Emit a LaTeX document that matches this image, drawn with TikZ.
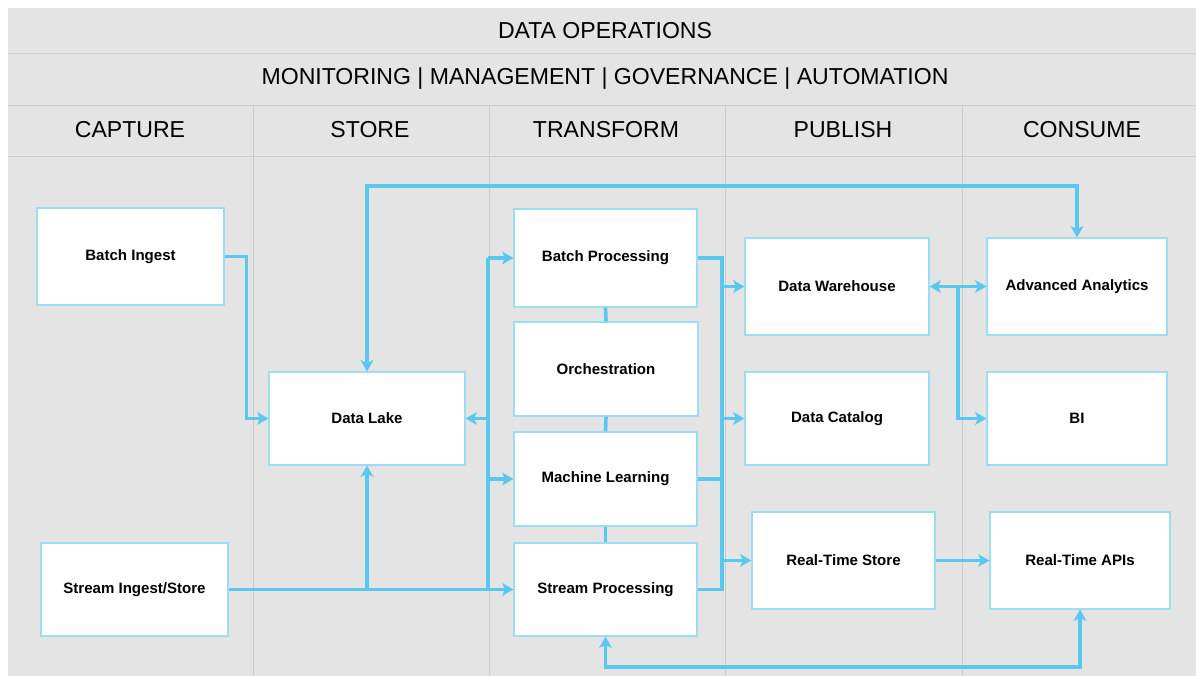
\documentclass[tikz,border=0pt]{standalone}
\usepackage{fontspec}
\setmainfont{Liberation Sans}
\usetikzlibrary{arrows.meta}

\definecolor{lanegray}{RGB}{228,228,228}
\definecolor{rulegray}{RGB}{204,204,204}
\definecolor{flowblue}{RGB}{90,200,238}
\definecolor{boxblue}{RGB}{158,220,242}

\begin{document}
\begin{tikzpicture}[x=0.025cm, y=-0.025cm,
    every node/.style={align=center},
    hdr/.style={font=\fontsize{16.4}{19}\selectfont},
    box/.style={rectangle, draw=boxblue, fill=white, line width=0.8pt, minimum width=4.6cm, minimum height=2.375cm, inner sep=0pt, font=\bfseries\fontsize{10.7}{13}\selectfont},
    rule/.style={rulegray, line width=0.6pt},
    link/.style={flowblue, line width=2.6pt},
    arr/.style={link, -{Stealth[length=8pt,width=9pt,inset=2pt]}},
    arrs/.style={link, {Stealth[length=8pt,width=9pt,inset=2pt]}-{Stealth[length=8pt,width=9pt,inset=2pt]}}
]
\useasboundingbox (0,0) rectangle (1196,676);
\fill[lanegray] (8,8) rectangle (1196,676);

% Header rows and lanes
\draw[rule] (8,53) -- (1196,53);
\draw[rule] (8,105) -- (1196,105);
\draw[rule] (8,156) -- (1196,156);
\foreach \x in {253,489,725,962}
  \draw[rule] (\x,105) -- (\x,676);

\node[hdr] (ops) at (605,31) {DATA OPERATIONS};
\node[hdr] (mgmt) at (605,79) {MONITORING | MANAGEMENT | GOVERNANCE | AUTOMATION};
\node[hdr] (hcap) at (130,130) {CAPTURE};
\node[hdr] (hsto) at (370,130) {STORE};
\node[hdr] (htra) at (606,130) {TRANSFORM};
\node[hdr] (hpub) at (843,130) {PUBLISH};
\node[hdr] (hcon) at (1082,130) {CONSUME};

% Capture
\node[box, minimum width=4.675cm, minimum height=2.425cm] (bingest) at (130.5,256.5) {Batch Ingest};
\node[box, minimum width=4.675cm, minimum height=2.325cm] (singest) at (134.5,589.5) {Stream Ingest/Store};

% Store
\node[box, minimum width=4.9cm, minimum height=2.325cm] (lake) at (367,418.5) {Data Lake};

% Transform
\node[box, minimum width=4.575cm, minimum height=2.45cm] (bproc) at (605.5,258) {Batch Processing};
\node[box, minimum height=2.35cm] (orch) at (606,369) {Orchestration};
\node[box, minimum width=4.575cm, minimum height=2.35cm] (ml) at (605.5,479) {Machine Learning};
\node[box, minimum width=4.575cm, minimum height=2.325cm] (sproc) at (605.5,589.5) {Stream Processing};

% Publish
\node[box, minimum height=2.425cm] (dwh) at (837,286.5) {Data Warehouse};
\node[box, minimum height=2.325cm] (dcat) at (837,418.5) {Data Catalog};
\node[box, minimum width=4.575cm, minimum height=2.425cm] (rtstore) at (843.5,560.5) {Real-Time Store};

% Consume
\node[box, minimum width=4.5cm, minimum height=2.425cm] (aa) at (1077,286.5) {Advanced Analytics};
\node[box, minimum width=4.5cm, minimum height=2.325cm] (bi) at (1077,418.5) {BI};
\node[box, minimum width=4.5cm, minimum height=2.425cm] (rtapi) at (1080,560.5) {Real-Time APIs};

% Routing points
\coordinate (topway) at (0,186);
\coordinate (botway) at (0,667);
\coordinate (storebus) at (488,0);
\coordinate (pubbus) at (722,0);
\coordinate (conbus) at (958,0);

% Capture -> store
\draw[arr] (bingest.east) -- ++(22,0) |- (lake.west);
\draw[arr] (singest.east) -- (sproc.west);
\draw[arr] (singest.east -| lake.south) -- (lake.south);

% Store <-> transform
\draw[link] (storebus |- sproc.west) -- (storebus |- bproc.west);
\draw[arr] (storebus |- bproc.west) -- (bproc.west);
\draw[arr] (storebus |- lake.east) -- (lake.east);
\draw[arr] (storebus |- ml.west) -- (ml.west);

% Transform stack
\draw[link] (bproc.south) -- (orch.north);
\draw[link] (orch.south) -- (ml.north);
\draw[link] (ml.south) -- (sproc.north);

% Transform -> publish
\draw[link] (bproc.east) -- (pubbus |- bproc.east) -- (pubbus |- sproc.east) -- (sproc.east);
\draw[link] (ml.east) -- (pubbus |- ml.east);
\draw[arr] (pubbus |- dwh.west) -- (dwh.west);
\draw[arr] (pubbus |- dcat.west) -- (dcat.west);
\draw[arr] (pubbus |- rtstore.west) -- (rtstore.west);

% Publish -> consume
\draw[arrs] (dwh.east) -- (aa.west);
\draw[arr] (conbus |- dwh.east) -- (conbus |- bi.west) -- (bi.west);
\draw[arr] (rtstore.east) -- (rtapi.west);

% Loops
\draw[arrs] (lake.north) -- (lake.north |- topway) -| (aa.north);
\draw[arrs] (sproc.south) -- (sproc.south |- botway) -| (rtapi.south);
\end{tikzpicture}
\end{document}
